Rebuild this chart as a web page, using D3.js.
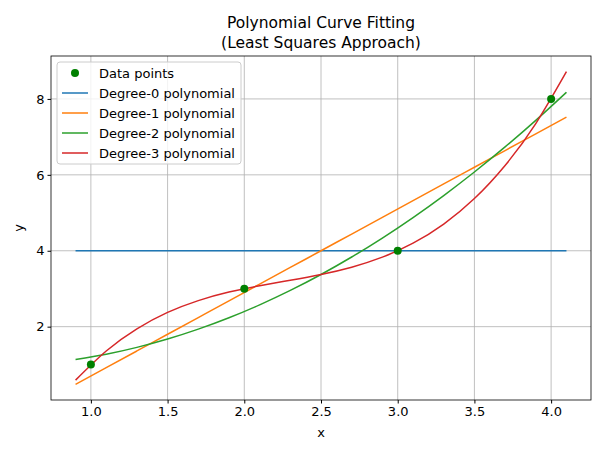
<!DOCTYPE html>
<html><head><meta charset="utf-8">
<script src="https://cdn.jsdelivr.net/npm/d3@7"></script>
<style>body{margin:0;background:#fff}text{font-family:"DejaVu Sans",sans-serif}</style>
</head><body><svg width="605" height="454"></svg>
<script>
var pointX = [1, 2, 3, 4];
var pointY = [1, 3, 4, 8];
var curveX = [0.9,1.1,1.3,1.5,1.7,1.9,2.1,2.3,2.5,2.7,2.9,3.1,3.3,3.5,3.7,3.9,4.1];
var deg0 = [4,4,4,4,4,4,4,4,4,4,4,4,4,4,4,4,4];
var deg1 = [0.48,0.92,1.36,1.80,2.24,2.68,3.12,3.56,4.00,4.44,4.88,5.32,5.76,6.20,6.64,7.08,7.52];
var deg2 = [1.135,1.275,1.455,1.675,1.935,2.235,2.575,2.955,3.375,3.835,4.335,4.875,5.455,6.075,6.735,7.435,8.175];
var deg3 = [0.591,1.359,1.943,2.375,2.687,2.911,3.079,3.223,3.375,3.567,3.831,4.199,4.703,5.375,6.247,7.351,8.719];
var xTicks = [1.0,1.5,2.0,2.5,3.0,3.5,4.0];
var yTicks = [2,4,6,8];

var svg = d3.select("svg");
var L = 51, R = 591, T = 56, B = 400;
var x = d3.scaleLinear().domain([0.74, 4.26]).range([L, R]);
var y = d3.scaleLinear().domain([0.068, 9.131]).range([B, T]);

// grid
svg.append("g").selectAll("line").data(xTicks).enter().append("line")
  .attr("x1", d => x(d)).attr("x2", d => x(d)).attr("y1", T).attr("y2", B)
  .attr("stroke", "#b0b0b0").attr("stroke-width", 0.8);
svg.append("g").selectAll("line").data(yTicks).enter().append("line")
  .attr("y1", d => y(d)).attr("y2", d => y(d)).attr("x1", L).attr("x2", R)
  .attr("stroke", "#b0b0b0").attr("stroke-width", 0.8);

var xAxis = svg.append("g").attr("transform", "translate(0," + B + ")")
  .call(d3.axisBottom(x).tickValues(xTicks).tickFormat(d3.format(".1f")).tickSizeOuter(0).tickSize(3.5));
var yAxis = svg.append("g").attr("transform", "translate(" + L + ",0)")
  .call(d3.axisLeft(y).tickValues(yTicks).tickSizeOuter(0).tickSize(3.5));
[xAxis, yAxis].forEach(a => { a.select(".domain").remove(); a.selectAll("text").attr("font-size", 13).attr("fill", "#000"); });
svg.append("rect").attr("x", L).attr("y", T).attr("width", R - L).attr("height", B - T)
  .attr("fill", "none").attr("stroke", "#000").attr("stroke-width", 0.8);

var series = [[deg0, "#1f77b4", "Degree-0 polynomial"], [deg1, "#ff7f0e", "Degree-1 polynomial"],
  [deg2, "#2ca02c", "Degree-2 polynomial"], [deg3, "#d62728", "Degree-3 polynomial"]];
var line = d3.line().x((d, i) => x(curveX[i])).y(d => y(d)).curve(d3.curveNatural);
series.forEach(s => {
  svg.append("path").attr("d", line(s[0])).attr("fill", "none").attr("stroke", s[1]).attr("stroke-width", 1.5);
});
svg.append("g").selectAll("circle").data(pointX).enter().append("circle")
  .attr("cx", d => x(d)).attr("cy", (d, i) => y(pointY[i])).attr("r", 4).attr("fill", "green");

// labels
svg.append("text").attr("x", (L + R) / 2).attr("y", 28).attr("text-anchor", "middle").attr("font-size", 15.5).text("Polynomial Curve Fitting");
svg.append("text").attr("x", (L + R) / 2).attr("y", 48).attr("text-anchor", "middle").attr("font-size", 15.5).text("(Least Squares Approach)");
svg.append("text").attr("x", (L + R) / 2).attr("y", 437).attr("text-anchor", "middle").attr("font-size", 13).text("x");
svg.append("text").attr("transform", "translate(23," + (T + B) / 2 + ") rotate(-90)").attr("text-anchor", "middle").attr("font-size", 13).text("y");

// legend
var lg = svg.append("g").attr("transform", "translate(57,62)");
lg.append("rect").attr("width", 184).attr("height", 102).attr("rx", 3)
  .attr("fill", "#fff").attr("fill-opacity", 0.8).attr("stroke", "#ccc");
var items = [["Data points", "green", true]].concat(series.map(s => [s[2], s[1], false]));
items.forEach((it, i) => {
  var cy = 11 + i * 20;
  if (it[2]) lg.append("circle").attr("cx", 18).attr("cy", cy).attr("r", 4).attr("fill", it[1]);
  else lg.append("line").attr("x1", 5).attr("x2", 31).attr("y1", cy).attr("y2", cy).attr("stroke", it[1]).attr("stroke-width", 1.5);
  lg.append("text").attr("x", 42).attr("y", cy + 4.5).attr("font-size", 13).text(it[0]);
});
</script></body></html>
